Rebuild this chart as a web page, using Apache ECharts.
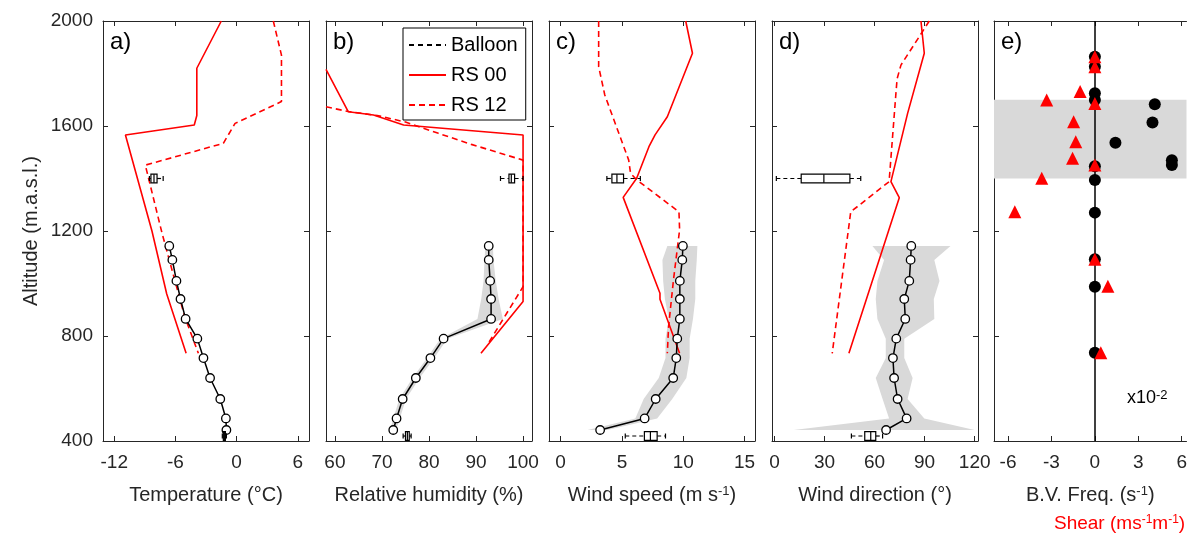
<!DOCTYPE html>
<html><head><meta charset="utf-8">
<script src="https://cdn.jsdelivr.net/npm/echarts@6/dist/echarts.min.js"></script>
<style>html,body{margin:0;padding:0;background:#fff}#c{width:1190px;height:544px}</style>
</head><body><div id="c"></div><script>
// ---------- data ----------
const altTicks = [400, 800, 1200, 1600, 2000];
const balloonAlt = [1143, 1090, 1010, 941, 865, 790, 716, 640, 560, 486, 442];

const tempBalloon = [-6.6, -6.3, -5.9, -5.5, -5.0, -3.85, -3.25, -2.6, -1.6, -1.05, -1.0];
const tempRS00 = [[-1.5, 2000], [-3.9, 1820], [-3.9, 1640], [-4.15, 1604], [-10.9, 1566], [-8.3, 1200], [-6.85, 960], [-4.95, 734]];
const tempRS12 = [[3.6, 2000], [4.4, 1870], [4.4, 1693], [-0.15, 1610], [-1.3, 1534], [-8.95, 1451], [-7.3, 1190], [-5.1, 875], [-3.75, 734]];
const tempBox = [[1400, -8.55, -8.4, -8.1, -7.8, -7.2], [419, -1.4, -1.3, -1.2, -1.1, -1.0]];

const rhBalloon = [92.7, 92.7, 93.0, 93.2, 93.2, 83.1, 80.3, 77.2, 74.4, 73.1, 72.4];
const rhLow = [92.0, 91.8, 91.6, 91.1, 90.3, 82.4, 79.6, 76.5, 73.7, 72.4, 71.8];
const rhHigh = [93.6, 93.7, 94.2, 94.8, 95.7, 83.9, 81.1, 78.0, 75.1, 73.8, 73.0];
const rhRS00 = [[58.1, 1816], [62.85, 1654], [68.2, 1642], [74.6, 1604], [100, 1566], [100, 931], [91.05, 734]];
const rhRS12 = [[58.1, 1673], [62.9, 1655], [69, 1640], [75, 1615], [82, 1572], [89, 1530], [100, 1470], [100, 988], [92.6, 772]];
const rhBox = [[1400, 95.2, 97.0, 97.5, 98.2, 100], [419, 74.5, 75.0, 75.4, 75.8, 76.2]];

const wsBalloon = [9.97, 9.92, 9.72, 9.72, 9.72, 9.51, 9.43, 9.18, 7.75, 6.85, 3.22];
const wsLow = [8.7, 8.3, 8.36, 8.5, 8.82, 8.55, 8.55, 8.0, 6.77, 6.09, 2.2];
const wsHigh = [11.15, 11.1, 10.98, 10.98, 10.79, 10.52, 10.52, 10.25, 9.1, 7.87, 3.8];
const wsRS00 = [[10.2, 2000], [10.75, 1877], [8.7, 1635], [7.7, 1566], [7.2, 1521], [6.2, 1401], [5.1, 1328], [8.1, 963], [8.1, 940], [9.7, 734]];
const wsRS12 = [[3.1, 2000], [3.1, 1826], [3.6, 1718], [5.55, 1470], [5.7, 1420], [6.2, 1395], [9.65, 1273], [9.7, 1204], [9.2, 1013], [8.8, 835], [8.7, 734]];
const wsBox = [[1400, 3.77, 4.18, 4.59, 5.13, 6.5], [419, 5.27, 6.83, 7.32, 7.87, 8.55]];

const wdBalloon = [82.0, 81.6, 80.8, 77.8, 78.4, 73.0, 71.0, 71.7, 73.8, 79.2, 66.9];
const wdLow = [58.7, 65.7, 61.7, 60.7, 61.7, 66.7, 66.7, 60.7, 64.8, 68.7, 11.5];
const wdHigh = [105.5, 95.8, 98.9, 95.5, 95.8, 77.8, 77.8, 82.8, 79.8, 89.8, 120];
const wdRS00 = [[87.8, 2000], [89.8, 1877], [79.8, 1648], [69.8, 1388], [74.8, 1327], [44.6, 734]];
const wdRS12 = [[92.8, 2000], [75.8, 1832], [73.5, 1780], [72.8, 1725], [68.7, 1388], [45.7, 1273], [34.6, 734]];
const wdBox = [[1400, 1.1, 16.0, 29.6, 45.2, 51.7], [419, 46.1, 54.1, 57.7, 60.7, 64.8]];

const bvAlt = [1864, 1826, 1725, 1699, 1683, 1613, 1536, 1470, 1451, 1447, 1394, 1270, 1092, 988, 736];
const bvVal = [0, 0, 0, 0, 4.14, 3.98, 1.42, 5.32, 5.32, 0, 0, 0, 0, 0, 0];
const shearAlt = [1864, 1826, 1731, 1699, 1686, 1616, 1540, 1477, 1451, 1401, 1273, 1092, 990, 736];
const shearVal = [0, 0, -1.02, -3.33, 0, -1.47, -1.32, -1.54, 0, -3.67, -5.53, 0, 0.9, 0.41];
const eBand = [1400, 1700];

const xTicks = [[-12, -6, 0, 6], [60, 70, 80, 90, 100], [0, 5, 10, 15], [0, 30, 60, 90, 120], [-6, -3, 0, 3, 6]];
const xRange = [[-13.1, 7.1], [58.1, 101.9], [-0.95, 15.85], [-1.5, 122], [-6.97, 6.33]];
const xNames = ['Temperature (°C)', 'Relative humidity (%)', 'Wind speed (m s{sup|-1})', 'Wind direction (°)', 'B.V. Freq. (s{sup|-1})'];
const panelLabels = ['a)', 'b)', 'c)', 'd)', 'e)'];

// ---------- layout ----------
const LEFTS = [103, 326, 549, 772, 994];
const WIDTHS = [206, 206, 206, 206, 196];
const TOP = 21, H = 420;
const AX = '#262626';
const FONT = 'Liberation Sans, Arial, sans-serif';
const RED = '#ff0000';

const grids = [], xAxes = [], yAxes = [];
const sup = { fontSize: 13, verticalAlign: 'top', lineHeight: 12, fontFamily: FONT, color: AX };
for (let i = 0; i < 5; i++) {
  grids.push({ left: LEFTS[i], top: TOP, width: WIDTHS[i], height: H });
  xAxes.push({ type: 'value', gridIndex: i, min: xRange[i][0], max: xRange[i][1], position: 'bottom', splitLine: { show: false },
    axisLine: { show: true, onZero: false, lineStyle: { color: AX, width: 1 } },
    axisTick: { show: true, inside: true, length: 5, customValues: xTicks[i], lineStyle: { color: AX } },
    axisLabel: { show: true, customValues: xTicks[i], fontSize: 19, color: AX, fontFamily: FONT, margin: 12 },
    name: xNames[i], nameLocation: 'middle', nameGap: 44,
    nameTextStyle: { fontSize: 20, color: AX, fontFamily: FONT, rich: { sup: sup } } });
}
for (let i = 0; i < 5; i++) {
  xAxes.push({ type: 'value', gridIndex: i, min: xRange[i][0], max: xRange[i][1], position: 'top', splitLine: { show: false },
    axisLine: { show: true, onZero: false, lineStyle: { color: AX } },
    axisTick: { show: true, inside: true, length: 5, customValues: xTicks[i], lineStyle: { color: AX } },
    axisLabel: { show: false } });
}
for (let i = 0; i < 5; i++) {
  yAxes.push({ type: 'value', gridIndex: i, min: 400, max: 2000, interval: 400, position: 'left', splitLine: { show: false },
    axisLine: { show: true, onZero: false, lineStyle: { color: AX } },
    axisTick: { show: true, inside: true, length: 5, lineStyle: { color: AX } },
    axisLabel: { show: i === 0, fontSize: 19, color: AX, fontFamily: FONT, margin: 10, formatter: function (v) { return String(v); } },
    name: i === 0 ? 'Altitude (m.a.s.l.)' : '', nameLocation: 'middle', nameGap: 62,
    nameTextStyle: { fontSize: 20, color: AX, fontFamily: FONT } });
}
for (let i = 0; i < 5; i++) {
  yAxes.push({ type: 'value', gridIndex: i, min: 400, max: 2000, interval: 400, position: 'right', splitLine: { show: false },
    axisLine: { show: i < 4, onZero: false, lineStyle: { color: AX } },
    axisTick: { show: i < 4, inside: true, length: 5, lineStyle: { color: AX } },
    axisLabel: { show: false } });
}

function band(i, low, high) {
  return { type: 'custom', xAxisIndex: i, yAxisIndex: i, data: [0], silent: true, z: 1, clip: true,
    renderItem: function (params, api) {
      const pts = [];
      for (let k = 0; k < balloonAlt.length; k++) pts.push(api.coord([low[k], balloonAlt[k]]));
      for (let k = balloonAlt.length - 1; k >= 0; k--) pts.push(api.coord([high[k], balloonAlt[k]]));
      return { type: 'polygon', shape: { points: pts }, style: { fill: '#d9d9d9' } };
    } };
}
function boxes(i, data) {
  return { type: 'custom', xAxisIndex: i, yAxisIndex: i, data: data, silent: true, z: 6,
    encode: { x: [1, 2, 3, 4, 5], y: 0 },
    renderItem: function (params, api) {
      const alt = api.value(0);
      const p = [1, 2, 3, 4, 5].map(function (d) { return api.coord([api.value(d), alt]); });
      const y = p[2][1], h = 4.3, c = 2.5;
      const st = { stroke: '#000', lineWidth: 1.2 };
      const dash = { stroke: '#000', lineWidth: 1.2, lineDash: [4, 3] };
      return { type: 'group', children: [
        { type: 'line', shape: { x1: p[0][0], y1: y, x2: p[1][0], y2: y }, style: dash },
        { type: 'line', shape: { x1: p[3][0], y1: y, x2: p[4][0], y2: y }, style: dash },
        { type: 'line', shape: { x1: p[0][0], y1: y - c, x2: p[0][0], y2: y + c }, style: st },
        { type: 'line', shape: { x1: p[4][0], y1: y - c, x2: p[4][0], y2: y + c }, style: st },
        { type: 'rect', shape: { x: p[1][0], y: y - h, width: p[3][0] - p[1][0], height: 2 * h }, style: { fill: '#fff', stroke: '#000', lineWidth: 1.2 } },
        { type: 'line', shape: { x1: p[2][0], y1: y - h, x2: p[2][0], y2: y + h }, style: st }
      ] };
    } };
}
function rs(i, name, data, dashed) {
  return { type: 'line', name: name, xAxisIndex: i, yAxisIndex: i, data: data, symbol: 'none', z: 3, clip: true,
    lineStyle: { color: RED, width: 1.6, type: dashed ? [6, 4] : 'solid' }, itemStyle: { color: RED } };
}
function balloon(i, vals) {
  return { type: 'line', name: 'BalloonProfile', xAxisIndex: i, yAxisIndex: i, z: 5,
    data: balloonAlt.map(function (a, k) { return [vals[k], a]; }),
    symbol: 'circle', symbolSize: 8.5, showSymbol: true,
    lineStyle: { color: '#000', width: 1.5 },
    itemStyle: { color: '#fff', borderColor: '#000', borderWidth: 1.3 } };
}

const series = [
  band(1, rhLow, rhHigh), band(2, wsLow, wsHigh), band(3, wdLow, wdHigh),
  rs(0, 'RS 00', tempRS00, false), rs(0, 'RS 12', tempRS12, true),
  rs(1, 'RS 00', rhRS00, false), rs(1, 'RS 12', rhRS12, true),
  rs(2, 'RS 00', wsRS00, false), rs(2, 'RS 12', wsRS12, true),
  rs(3, 'RS 00', wdRS00, false), rs(3, 'RS 12', wdRS12, true),
  balloon(0, tempBalloon), balloon(1, rhBalloon), balloon(2, wsBalloon), balloon(3, wdBalloon),
  boxes(0, tempBox), boxes(1, rhBox), boxes(2, wsBox), boxes(3, wdBox),
  { type: 'line', name: 'Balloon', xAxisIndex: 1, yAxisIndex: 1, data: [], symbol: 'none',
    lineStyle: { color: '#000', width: 1.3, type: [5, 4] }, itemStyle: { color: '#000' } },
  { type: 'scatter', xAxisIndex: 4, yAxisIndex: 4, data: [], z: 0, silent: true,
    markArea: { silent: true, itemStyle: { color: '#d9d9d9', opacity: 1 }, data: [[{ yAxis: eBand[0] }, { yAxis: eBand[1] }]] } },
  { type: 'scatter', name: 'BV', xAxisIndex: 4, yAxisIndex: 4, z: 4,
    data: bvAlt.map(function (a, k) { return [bvVal[k], a]; }),
    symbol: 'circle', symbolSize: 12, itemStyle: { color: '#000', opacity: 1 },
    markLine: { silent: true, symbol: 'none', label: { show: false }, lineStyle: { color: '#000', width: 1.5, type: 'solid' }, data: [{ xAxis: 0 }] } },
  { type: 'scatter', name: 'Shear', xAxisIndex: 4, yAxisIndex: 4, z: 5,
    data: shearAlt.map(function (a, k) { return [shearVal[k], a]; }),
    symbol: 'triangle', symbolSize: 13, itemStyle: { color: RED, opacity: 1 } }
];

const graphic = panelLabels.map(function (t, i) {
  return { type: 'text', left: LEFTS[i] + 7, top: TOP + 9, style: { text: t, fontSize: 24, fill: '#000', fontFamily: FONT } };
});
graphic.push({ type: 'text', left: 1127, top: 389, style: { text: 'x10{s|-2}', fontSize: 18, fill: '#000', fontFamily: FONT,
  rich: { s: { fontSize: 13, verticalAlign: 'top', lineHeight: 12, fontFamily: FONT } } } });
graphic.push({ type: 'text', left: 1054, top: 514, style: { text: 'Shear (ms{s|-1}m{s|-1})', fontSize: 19, fill: RED, fontFamily: FONT,
  rich: { s: { fontSize: 12, verticalAlign: 'top', lineHeight: 12, fill: RED, fontFamily: FONT } } } });

const chart = echarts.init(document.getElementById('c'), null, { renderer: 'canvas' });
chart.setOption({
  animation: false,
  backgroundColor: '#fff',
  grid: grids, xAxis: xAxes, yAxis: yAxes, series: series, graphic: graphic,
  legend: { data: ['Balloon', 'RS 00', 'RS 12'], left: 403, top: 28, orient: 'vertical', itemWidth: 37, itemHeight: 14,
    itemGap: 10, padding: [7, 8, 5, 5], borderColor: '#000', borderWidth: 1, backgroundColor: '#fff',
    itemStyle: { opacity: 0 },
    textStyle: { fontSize: 20, color: '#000', fontFamily: FONT }, selectedMode: false }
});
</script></body></html>
